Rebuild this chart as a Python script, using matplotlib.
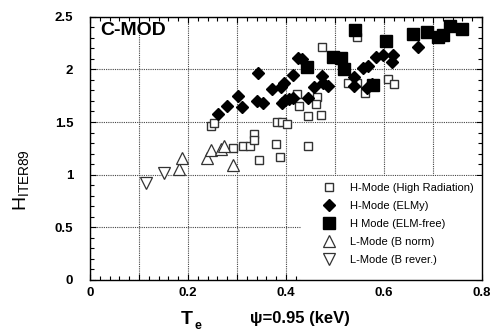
import matplotlib
matplotlib.use("Agg")
import matplotlib.pyplot as plt
from matplotlib.patches import Rectangle
from matplotlib.ticker import MultipleLocator, FuncFormatter

plt.rcParams['font.family'] = ['Liberation Sans', 'DejaVu Sans']

# H-Mode (High Radiation) - open squares
hr_x = [0.247, 0.253, 0.292, 0.313, 0.327, 0.335, 0.335, 0.345, 0.380, 0.388,
        0.382, 0.392, 0.402, 0.422, 0.427, 0.445, 0.445, 0.463, 0.461, 0.471,
        0.473, 0.545, 0.527, 0.545, 0.561, 0.608, 0.620]
hr_y = [1.46, 1.49, 1.25, 1.27, 1.27, 1.39, 1.33, 1.14, 1.29, 1.17,
        1.50, 1.50, 1.48, 1.77, 1.65, 1.56, 1.27, 1.74, 1.67, 1.57,
        2.21, 2.31, 1.87, 1.87, 1.78, 1.91, 1.86]

# H-Mode (ELMy) - filled diamonds
elmy_x = [0.262, 0.279, 0.303, 0.310, 0.342, 0.341, 0.353, 0.371, 0.390, 0.396,
          0.392, 0.398, 0.406, 0.414, 0.414, 0.424, 0.433, 0.445, 0.457, 0.473,
          0.476, 0.486, 0.539, 0.539, 0.557, 0.567, 0.566, 0.575, 0.584, 0.598,
          0.618, 0.616, 0.669]
elmy_y = [1.58, 1.65, 1.75, 1.64, 1.97, 1.70, 1.68, 1.81, 1.83, 1.87,
          1.68, 1.71, 1.72, 1.95, 1.73, 2.11, 2.10, 1.73, 1.83, 1.94,
          1.87, 1.84, 1.93, 1.84, 2.01, 2.03, 1.82, 1.86, 2.12, 2.14,
          2.14, 2.07, 2.21]

# H Mode (ELM-free) - filled squares
ef_x = [0.443, 0.496, 0.512, 0.518, 0.541, 0.578, 0.604, 0.659, 0.688, 0.710,
        0.720, 0.735, 0.759]
ef_y = [2.02, 2.12, 2.11, 2.00, 2.37, 1.85, 2.27, 2.34, 2.35, 2.31,
        2.33, 2.41, 2.38]

# L-Mode (B norm) - open up triangles
ln_x = [0.182, 0.187, 0.238, 0.247, 0.268, 0.274, 0.292]
ln_y = [1.05, 1.16, 1.16, 1.23, 1.24, 1.27, 1.09]

# L-Mode (B rever.) - open down triangles
lr_x = [0.115, 0.151]
lr_y = [0.92, 1.02]

labels = ["H-Mode (High Radiation)", "H-Mode (ELMy)", "H Mode (ELM-free)",
          "L-Mode (B norm)", "L-Mode (B rever.)"]

fig = plt.figure(figsize=(4.98, 3.34), dpi=100)
ax = fig.add_axes([90/498, 1-280/334, 392/498, 263.3/334])

ax.set_xlim(0, 0.8)
ax.set_ylim(0, 2.5)

# white box behind legend (hides grid)
ax.add_patch(Rectangle((0.43, 0.0), 0.37, 0.985, transform=ax.transData,
                       facecolor='white', edgecolor='none', zorder=1))

h1, = ax.plot(hr_x, hr_y, 's', ms=5.5, mfc='white', mec='#333333', mew=1.0, zorder=3, label=labels[0])
h2, = ax.plot(elmy_x, elmy_y, 'D', ms=6.5, color='black', zorder=4, label=labels[1])
h3, = ax.plot(ef_x, ef_y, 's', ms=8, color='black', zorder=4, label=labels[2])
h4, = ax.plot(ln_x, ln_y, '^', ms=8, mfc='white', mec='#333333', mew=0.9, zorder=3, label=labels[3])
h5, = ax.plot(lr_x, lr_y, 'v', ms=8, mfc='white', mec='#333333', mew=0.9, zorder=3, label=labels[4])

ax.xaxis.set_major_locator(MultipleLocator(0.1))
ax.xaxis.set_minor_locator(MultipleLocator(0.02))
ax.yaxis.set_major_locator(MultipleLocator(0.5))
ax.yaxis.set_minor_locator(MultipleLocator(0.1))

def xfmt(v, pos):
    k = int(round(v * 10))
    if k % 2:
        return ''
    return '0' if k == 0 else ('%.1f' % v)

def yfmt(v, pos):
    if abs(v) < 1e-9:
        return '0'
    if abs(v - round(v)) < 1e-9:
        return '%d' % round(v)
    return '%.1f' % v

ax.xaxis.set_major_formatter(FuncFormatter(xfmt))
ax.yaxis.set_major_formatter(FuncFormatter(yfmt))

ax.tick_params(which='both', direction='in', top=True, right=True, color='black')
ax.tick_params(which='major', length=4, width=0.8, labelsize=9.5, pad=5)
ax.tick_params(which='minor', length=3, width=0.8)
ax.tick_params(axis='y', which='major', pad=12)
for lab in ax.get_xticklabels() + ax.get_yticklabels():
    lab.set_fontweight('bold')

ax.grid(True, which='major', linestyle=(0, (1, 1)), color='#444444', linewidth=0.8)
ax.set_axisbelow(True)
for s in ax.spines.values():
    s.set_linewidth(1.0)

ax.text(0.02, 2.33, 'C-MOD', fontsize=14, fontweight='bold', zorder=5)

leg = ax.legend(handles=[h1, h2, h3, h4, h5], loc='upper left',
                bbox_to_anchor=(0.585, 0.385), frameon=False, fontsize=8,
                handlelength=1.0, handletextpad=1.4, labelspacing=0.72,
                borderaxespad=0)
leg.set_zorder(6)

fig.text(22/498, 1-180/334, r'H$_{\mathregular{ITER89}}$', rotation=90,
         fontsize=14, ha='center', va='center')
fig.text(181/498, 1-320/334, 'T', fontsize=14, fontweight='bold', ha='left', va='center')
fig.text(194/498, 1-326/334, 'e', fontsize=9, fontweight='bold', ha='left', va='center')
fig.text(250/498, 1-318/334, 'ψ=0.95 (keV)', fontsize=12, fontweight='bold', ha='left', va='center')

fig.savefig('out.png', dpi=100)
